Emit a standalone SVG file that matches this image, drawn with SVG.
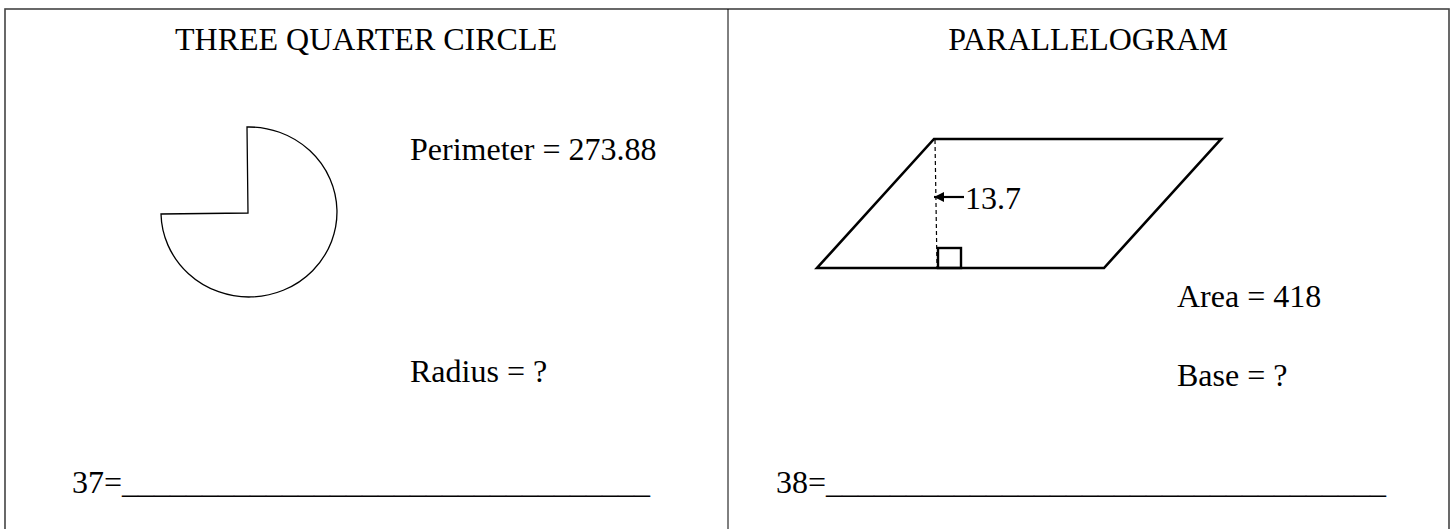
<svg xmlns="http://www.w3.org/2000/svg" width="1456" height="529" viewBox="0 0 1456 529">
<style>
text{font-family:"Liberation Serif","Times New Roman",serif;font-size:32px;fill:#000}
.frame{fill:none;stroke:#444;stroke-width:1.6}
.shape{fill:#fff;stroke:#000}
</style>
<defs>
<marker id="ah" viewBox="0 0 10 10" refX="10" refY="5" markerWidth="14" markerHeight="10" markerUnits="userSpaceOnUse" orient="auto"><path d="M0,0 L10,5 L0,10 Z" fill="#000"/></marker>
</defs>
<g id="frame">
<rect class="frame" x="5" y="9" width="1444" height="530"/>
<line x1="728" y1="9" x2="728" y2="529" stroke="#000" stroke-width="1"/>
</g>
<g id="three-quarter-circle">
<text x="366" y="50" text-anchor="middle">THREE QUARTER CIRCLE</text>
<path class="shape" stroke-width="1.3" d="M247,127 L248,213 L161,214 A88,85 0 1 0 247,127 Z"/>
<text x="410" y="160">Perimeter = 273.88</text>
<text x="410" y="382">Radius = ?</text>
<text x="72" y="493">37=_________________________________</text>
</g>
<g id="parallelogram">
<text x="1088" y="50" text-anchor="middle">PARALLELOGRAM</text>
<polygon class="shape" stroke-width="2.6" stroke-linejoin="miter" points="934,139 1221,139 1104,268 817,268"/>
<line x1="935" y1="140" x2="937" y2="267" stroke="#000" stroke-width="1.2" stroke-dasharray="4,3"/>
<rect x="938" y="248" width="23" height="20" fill="none" stroke="#000" stroke-width="2.4"/>
<text x="965" y="209">13.7</text>
<text x="1177" y="307">Area = 418</text>
<text x="1177" y="386">Base = ?</text>
<text x="776" y="493">38=___________________________________</text>
</g>
<g id="connectors">
<line x1="964" y1="197" x2="934" y2="197" stroke="#000" stroke-width="2.2" marker-end="url(#ah)"/>
</g>
</svg>
